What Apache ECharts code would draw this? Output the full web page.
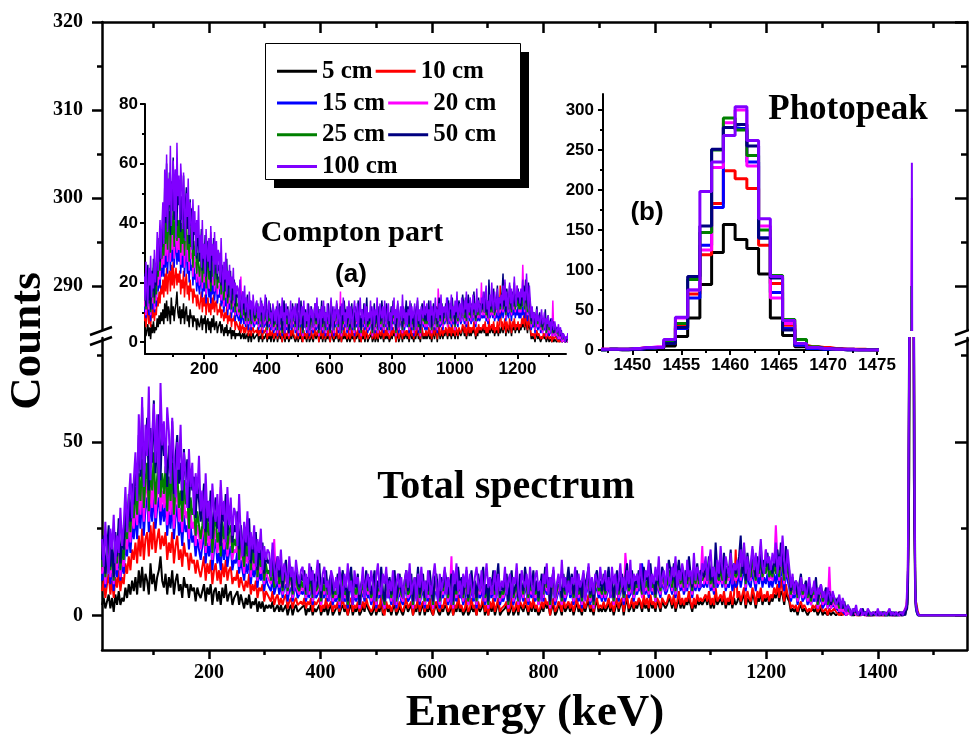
<!DOCTYPE html>
<html>
<head>
<meta charset="utf-8">
<script src="https://cdn.jsdelivr.net/npm/echarts@6/dist/echarts.min.js"></script>
<style>
  html, body { margin: 0; padding: 0; background: #fff; }
  #chart { width: 969px; height: 747px; }
</style>
</head>
<body>
<div id="chart"></div>
<script>
// Source-to-detector distances
const seriesNames = ['5 cm', '10 cm', '15 cm', '20 cm', '25 cm', '50 cm', '100 cm'];
const seriesColors = ['#000000', '#ff0000', '#0000ff', '#ff00ff', '#008000', '#000080', '#8000ff'];

// Compton continuum: counts per channel, channel i centred at COMPTON_E0 + COMPTON_STEP * i keV
const COMPTON_E0 = 8, COMPTON_STEP = 3;

const compton5 = [
  3,5,2,4,6,2,5,1,6,3,7,3,5,4,8,5,9,6,10,7,
  11,6,13,8,14,7,12,10,6,15,9,12,7,11,13,17,10,8,12,6,
  11,8,13,6,10,12,7,9,5,11,8,9,5,9,7,8,4,8,6,5,
  7,9,4,8,6,9,3,7,8,4,7,3,8,5,9,4,6,7,3,5,
  5,7,3,6,4,2,5,3,6,2,4,3,5,1,4,2,4,1,3,2,
  3,2,4,1,2,3,1,3,1,2,3,0,2,3,0,2,3,1,1,2,
  2,3,0,2,1,3,0,2,1,2,3,0,2,1,3,0,2,3,0,1,
  1,3,0,2,3,1,2,0,2,3,0,2,1,3,0,1,3,1,4,2,
  2,0,1,3,0,2,1,4,0,0,3,1,2,0,2,3,0,1,3,1,
  0,2,3,1,2,3,0,2,1,4,0,2,3,0,2,1,3,1,0,2,
  3,1,0,2,1,3,2,0,1,3,0,2,1,4,1,2,0,1,3,0,
  1,3,1,2,0,3,1,2,4,0,2,0,3,1,3,0,2,4,0,1,
  1,2,3,0,1,4,0,1,3,0,3,2,1,3,2,0,3,1,4,1,
  2,0,1,3,1,4,2,3,0,2,3,0,1,3,2,0,4,1,2,3,
  1,3,0,2,4,1,2,0,3,1,3,4,1,2,0,3,4,1,2,1,
  3,1,2,4,1,3,0,2,4,1,3,4,0,3,5,1,2,4,1,3,
  2,4,3,1,4,2,3,1,5,2,3,1,4,3,1,4,3,2,3,5,
  4,2,5,1,3,5,2,4,2,4,3,5,3,1,4,2,5,3,4,3,
  3,5,3,6,2,4,2,6,3,3,5,3,6,2,4,3,5,2,5,3,
  4,6,3,5,6,2,5,4,3,6,5,2,5,4,7,3,5,4,6,3,
  5,4,6,5,8,4,7,6,3,7,5,4,1,2,1,2,0,2,3,1,
  2,1,0,1,1,2,1,2,0,1,2,0,1,1,0,1,0,1,1,0,
  0,1,0,0,1,0,0,1,0,0,0,1,0,0,0,0,1,0,0,0,
  0,0,0,0,1,0,0,0,0,0,0,0,1,0,0,0,0,0,0,0
];
const compton10 = [
  7,10,5,9,12,6,10,5,11,8,13,7,11,9,15,12,17,13,19,16,
  21,15,23,17,25,16,22,24,17,26,19,27,18,22,25,19,23,20,24,16,
  21,18,24,15,20,23,16,19,14,21,17,18,13,18,15,16,12,16,13,11,
  14,17,10,15,12,16,9,13,15,10,13,9,15,11,16,10,13,14,9,11,
  10,13,8,11,9,7,10,8,12,6,9,7,10,5,8,7,9,4,7,6,
  6,4,7,3,5,6,3,5,3,5,6,2,4,5,2,4,5,3,3,4,
  3,5,2,4,3,5,1,4,3,3,5,1,3,2,5,2,3,4,1,3,
  2,4,1,3,5,2,3,0,4,5,1,3,2,4,1,2,4,2,5,3,
  3,1,2,5,1,3,2,6,1,0,4,2,3,1,3,5,1,2,4,2,
  1,3,5,2,3,4,0,3,2,6,1,3,4,1,3,2,5,2,0,3,
  4,2,1,3,2,5,3,1,2,4,0,3,2,6,2,3,1,2,5,1,
  2,5,2,3,0,4,2,3,6,1,3,0,4,2,5,1,3,5,1,2,
  2,3,4,1,2,5,1,2,4,1,4,3,2,5,3,1,4,2,5,2,
  3,1,2,4,2,5,3,4,0,3,5,1,2,4,3,1,6,2,3,4,
  2,4,1,3,5,2,3,1,4,2,4,6,2,3,1,4,5,2,3,2,
  4,2,3,5,2,4,1,3,5,2,4,5,1,4,6,2,3,5,2,4,
  3,5,4,2,6,3,5,2,6,3,4,2,5,4,2,5,4,3,4,6,
  5,3,6,2,4,7,3,5,3,5,4,7,4,2,5,3,6,4,5,4,
  4,6,4,7,3,5,3,8,4,4,6,4,7,3,5,4,7,3,6,19,
  5,7,4,6,8,3,7,5,4,8,6,3,7,5,8,4,6,5,7,4,
  6,5,8,6,9,5,11,7,4,9,6,5,2,3,2,3,1,3,4,2,
  3,3,1,2,1,3,2,3,1,2,3,1,1,2,0,2,1,1,2,1,
  1,0,1,0,1,0,0,1,0,0,1,0,0,0,0,1,0,0,0,0,
  0,0,0,1,0,0,0,0,0,0,1,0,0,0,0,0,0,1,0,0
];
const compton15 = [
  10,15,8,13,17,9,14,7,16,11,19,10,15,12,21,17,24,18,26,22,
  29,22,32,25,35,23,31,34,24,33,27,36,25,31,34,26,32,27,33,23,
  30,25,33,22,28,32,23,27,20,29,24,26,19,26,21,23,17,22,19,16,
  20,24,15,21,17,23,13,19,22,15,18,13,21,16,22,14,18,20,13,16,
  15,19,12,16,13,10,15,12,17,9,14,11,15,8,13,10,13,7,11,9,
  9,7,11,6,8,10,6,9,5,8,9,4,7,8,4,7,8,5,5,7,
  6,8,4,7,5,9,3,7,5,6,8,3,6,5,8,4,6,7,3,5,
  4,7,2,6,8,4,5,2,7,8,3,6,4,7,2,5,7,4,8,5,
  6,3,5,8,2,6,5,9,3,2,7,5,6,3,6,8,2,5,7,4,
  3,6,8,4,5,7,2,6,5,9,3,6,7,2,6,4,8,5,2,6,
  7,4,2,6,5,8,6,3,5,7,2,6,4,10,5,6,3,5,8,3,
  5,8,4,6,2,7,5,6,9,3,6,2,7,5,8,4,6,9,3,5,
  4,6,7,2,5,8,3,5,7,3,7,6,4,9,6,3,7,5,8,4,
  6,3,5,7,4,9,6,7,2,6,8,3,5,7,6,3,7,4,6,9,
  5,7,3,6,8,4,6,2,8,5,7,9,3,6,2,7,8,5,6,4,
  7,4,6,9,5,7,3,6,8,4,7,8,3,7,10,5,6,8,4,7,
  6,8,7,15,9,6,8,5,10,6,7,4,9,7,5,9,8,6,7,10,
  8,6,10,5,8,11,7,9,6,8,7,11,8,5,9,7,10,7,8,9,
  8,10,8,12,7,9,6,13,8,8,11,8,12,7,9,8,12,7,10,8,
  9,12,8,11,14,7,12,9,8,13,10,7,12,9,13,8,11,9,12,8,
  10,8,12,9,13,8,14,11,7,13,10,8,4,6,5,7,3,6,7,4,
  5,6,3,5,3,5,4,6,2,4,5,2,3,5,2,4,2,3,3,2,
  2,1,2,1,1,0,1,1,0,0,1,0,0,1,0,0,1,0,0,0,
  0,0,1,0,0,0,0,1,0,0,0,0,1,0,0,0,0,0,0,1
];
const compton20 = [
  12,17,9,15,19,11,16,9,19,13,22,11,17,14,24,19,27,21,30,25,
  33,26,36,29,40,27,35,39,27,37,31,41,28,35,39,30,36,31,38,26,
  35,29,38,25,32,37,27,31,24,34,28,30,22,30,25,27,20,26,23,19,
  23,27,18,25,20,26,16,22,25,18,21,37,24,19,26,17,21,23,16,19,
  18,22,14,19,16,12,18,15,20,11,17,13,18,10,15,12,16,9,13,11,
  11,9,13,22,10,12,8,11,6,10,11,6,9,10,5,8,10,7,6,9,
  7,10,5,8,6,11,4,9,6,7,10,3,8,6,10,5,7,9,4,6,
  5,9,3,7,10,5,6,3,8,10,4,7,5,9,2,6,8,5,10,6,
  8,4,6,10,3,7,6,11,4,2,9,6,8,4,7,10,3,6,9,5,
  4,7,10,5,6,9,2,8,6,11,4,7,9,3,7,5,10,6,2,8,
  9,5,3,8,6,10,7,4,6,17,2,7,5,12,6,8,4,7,10,3,
  6,10,5,7,3,9,6,8,11,4,7,2,8,6,10,5,7,11,4,6,
  5,7,9,2,6,10,4,6,8,3,9,7,5,11,7,4,8,6,10,5,
  7,3,6,9,5,11,7,8,2,7,10,4,6,8,7,3,9,5,7,11,
  6,9,4,7,10,5,7,3,9,6,8,11,4,7,2,8,10,6,7,5,
  9,5,7,11,6,8,3,7,10,5,8,9,4,18,12,6,7,10,5,8,
  7,10,8,5,11,7,9,6,12,7,8,4,10,8,6,11,9,7,8,12,
  10,7,12,6,9,13,8,11,7,10,8,13,9,6,11,8,12,8,10,20,
  9,12,9,14,8,11,7,15,10,9,13,9,14,8,11,10,15,9,12,10,
  11,14,10,13,18,8,15,11,10,16,12,9,14,11,16,10,13,19,15,10,
  12,10,14,26,16,10,17,13,9,16,12,10,5,8,6,8,4,7,9,5,
  6,8,4,7,3,6,5,8,2,5,7,3,4,6,2,14,2,4,3,2,
  3,1,2,1,2,0,1,1,0,0,1,0,0,1,0,1,0,0,0,0,
  0,0,1,0,0,0,1,0,0,0,0,1,0,0,0,1,0,0,0,0
];
const compton25 = [
  14,19,11,17,22,13,18,10,21,15,25,13,19,16,27,22,31,24,34,28,
  37,29,41,33,45,31,39,44,30,42,36,47,32,40,45,34,41,35,43,30,
  40,33,44,29,37,42,31,36,27,39,32,35,25,34,29,31,23,30,26,22,
  26,31,20,28,23,30,18,25,29,21,24,17,27,22,29,19,24,26,18,22,
  20,25,16,22,18,14,21,17,23,13,19,15,20,11,17,14,18,10,15,12,
  13,10,15,8,12,14,9,12,7,11,13,7,10,12,6,9,11,8,7,10,
  8,11,6,9,7,12,5,10,7,8,12,4,9,7,11,6,8,10,5,7,
  6,10,4,8,11,6,7,3,9,12,5,8,6,10,3,7,9,6,11,7,
  9,5,7,11,4,8,7,12,5,3,10,7,9,5,8,11,4,7,10,6,
  5,8,11,6,7,10,3,9,7,12,5,8,10,4,8,6,11,7,3,9,
  10,6,4,9,7,11,8,5,7,10,3,8,6,13,7,9,5,8,11,4,
  7,11,6,8,4,10,7,9,12,5,8,3,9,7,11,6,8,12,5,7,
  6,8,10,3,7,11,5,7,9,4,10,8,6,12,8,5,9,7,11,6,
  8,4,7,10,6,12,8,9,3,8,11,5,7,9,8,4,10,6,8,12,
  7,10,5,8,11,6,8,4,10,7,9,12,5,8,3,9,11,7,8,6,
  10,6,8,12,7,9,4,8,11,6,9,10,5,9,13,7,8,11,6,9,
  8,11,9,6,12,8,10,7,13,8,9,5,11,9,7,12,10,8,9,13,
  11,8,13,7,10,14,9,12,8,11,9,14,10,7,12,9,13,9,11,10,
  10,13,10,15,9,12,8,16,11,10,14,10,15,9,12,11,16,10,13,11,
  12,15,11,14,20,9,16,12,11,17,13,10,15,12,17,11,14,12,16,11,
  13,11,15,12,17,11,18,14,10,17,13,11,6,9,7,9,5,8,10,6,
  7,9,5,8,4,7,6,9,3,6,8,4,5,7,3,6,3,5,4,3,
  4,2,3,2,3,1,2,1,1,0,2,1,0,1,1,1,0,1,0,0,
  0,1,0,0,1,0,0,1,0,0,0,1,0,1,0,0,0,0,1,0
];
const compton50 = [
  16,23,12,19,26,14,21,11,24,17,28,15,22,19,30,25,35,27,38,32,
  43,35,52,40,60,38,47,57,36,54,44,62,41,50,58,39,55,46,51,37,
  49,41,56,35,46,52,38,44,33,48,39,45,31,42,36,40,28,38,33,27,
  31,38,24,33,27,36,22,30,34,25,29,20,32,27,35,23,28,31,21,26,
  24,30,19,26,21,17,25,20,28,15,22,18,24,13,20,16,21,12,18,15,
  16,12,19,10,14,17,11,15,8,13,16,9,12,14,7,11,13,10,8,12,
  10,13,7,11,9,14,6,12,8,10,15,5,11,9,13,7,10,12,6,9,
  8,12,5,10,13,7,9,4,11,14,6,10,8,12,3,9,11,7,13,8,
  11,6,9,13,5,10,8,14,7,4,12,9,11,6,10,13,5,8,12,7,
  6,10,13,7,9,12,4,11,8,14,6,9,12,5,10,7,13,8,4,11,
  12,7,5,11,8,13,10,6,9,12,4,10,7,14,8,11,6,9,13,5,
  9,13,7,10,5,12,8,11,14,6,9,4,11,8,13,7,10,15,6,9,
  7,10,12,4,9,13,6,8,11,5,12,9,7,14,10,6,11,8,13,7,
  10,5,8,12,7,14,9,11,4,10,13,6,8,11,9,5,12,7,10,14,
  8,12,6,9,13,7,10,5,12,8,11,14,6,9,4,11,13,8,10,7,
  12,7,10,14,8,11,5,9,13,7,10,12,6,11,15,8,9,13,7,10,
  9,13,11,7,14,10,12,8,15,9,11,6,13,10,8,14,12,9,11,16,
  13,10,15,8,12,16,11,14,9,13,10,17,12,8,14,11,15,10,13,12,
  11,15,12,17,10,14,9,21,13,11,16,12,18,10,14,13,19,11,15,12,
  14,17,23,12,16,10,18,14,13,19,15,11,17,13,20,12,16,14,18,13,
  15,12,17,14,19,13,21,16,12,20,15,13,7,11,8,10,6,9,12,7,
  8,10,6,9,5,8,7,11,4,7,9,5,6,8,4,7,3,6,5,4,
  5,3,4,2,4,1,3,2,1,0,2,1,1,0,1,2,0,1,0,1,
  1,0,0,1,0,1,0,0,1,0,1,0,0,0,1,0,0,1,0,0
];
const compton100 = [
  22,14,27,17,12,25,19,29,15,23,18,31,20,26,37,24,33,41,28,39,
  47,33,58,42,63,37,55,46,66,39,52,61,44,58,35,67,49,56,41,60,
  53,38,57,45,34,50,42,55,36,47,40,31,48,37,44,29,41,35,46,30,
  36,25,41,28,33,22,38,30,27,35,24,39,29,33,21,37,26,34,23,31,
  29,20,35,23,17,27,21,30,16,24,19,26,14,22,18,25,13,20,16,19,
  18,11,21,14,9,17,13,19,10,15,12,8,17,11,14,7,16,12,9,13,
  14,8,12,6,15,10,13,5,11,16,9,7,12,14,8,10,4,13,11,7,
  11,6,14,9,4,12,8,15,7,10,3,13,9,11,6,8,14,5,10,12,
  7,13,9,4,11,15,8,6,12,9,14,5,10,7,13,3,9,12,8,11,
  5,10,13,8,15,6,9,11,4,12,8,14,7,10,5,13,9,6,11,15,
  9,4,12,7,10,14,6,11,8,3,13,9,15,7,10,5,12,8,14,6,
  12,8,5,11,14,9,7,13,4,10,15,8,11,6,9,13,5,12,7,10,
  8,14,6,10,12,5,11,9,15,7,4,13,10,8,12,6,14,9,5,11,
  13,7,10,4,12,9,15,6,11,8,14,5,9,12,7,16,8,11,6,10,
  6,11,9,14,5,12,8,10,13,4,9,15,7,11,6,12,10,8,14,9,
  10,13,7,11,5,14,9,12,6,10,15,8,11,7,13,9,16,6,12,10,
  12,8,15,10,6,13,11,16,7,12,9,14,10,17,8,11,13,7,15,10,
  9,14,11,17,8,13,10,15,12,7,16,11,13,9,18,10,14,12,8,15,
  13,17,10,15,19,11,14,8,16,12,20,13,10,17,14,11,18,9,15,13,
  16,11,19,14,21,12,17,10,15,20,13,18,11,16,22,14,12,19,15,17,
  13,18,15,21,12,17,14,23,16,11,19,14,8,12,6,10,9,5,11,7,
  9,5,8,11,6,7,10,4,8,6,9,5,7,3,8,6,4,7,5,3,
  4,6,2,5,3,1,3,2,0,2,1,3,0,1,2,0,1,0,2,1,
  0,1,1,0,2,0,1,0,1,0,0,2,0,1,0,1,0,0,1,0
];

// Photopeak region: channel centres (keV) and counts per channel
const peakEnergy = [1446.6, 1447.8, 1449.0, 1450.2, 1451.4, 1452.6, 1453.8, 1455.0, 1456.3,
  1457.5, 1458.7, 1459.9, 1461.1, 1462.3, 1463.5, 1464.7, 1466.0, 1467.2, 1468.4, 1469.6,
  1470.8, 1472.0, 1473.2, 1474.4, 1475.6];
const peak5   = [0,1,0,1,1,2,5,17,40,82,122,157,138,127,95,40,18,4,2,1,1,0,0,0,0];
const peak10  = [1,1,1,2,3,3,8,30,70,119,183,224,214,202,131,83,31,6,4,3,2,1,1,0,0];
const peak15  = [0,1,1,1,2,3,9,27,65,131,178,278,277,235,140,72,27,6,2,1,1,0,0,0,0];
const peak20  = [1,1,1,1,3,4,12,40,75,125,228,284,300,230,155,65,33,8,3,2,1,1,0,0,0];
const peak25  = [0,1,1,2,2,3,10,33,88,147,250,290,275,243,150,93,38,13,4,2,1,1,0,0,0];
const peak50  = [0,1,0,1,2,3,8,28,92,155,251,278,282,255,140,90,25,8,3,2,1,0,0,0,0];
const peak100 = [1,1,1,2,3,3,13,41,75,198,235,268,304,262,164,92,37,8,3,2,1,1,0,0,0];

// Empty channels above the photopeak
const tailEnergy = [1490, 1525, 1560];
const tailCounts = [0, 0, 0];

// Tick and label values
const mainXMajor = [200, 400, 600, 800, 1000, 1200, 1400];
const mainXMinor = [100, 300, 500, 700, 900, 1100, 1300, 1500];
const upperYMajor = [290, 300, 310, 320];
const upperYMinor = [295, 305, 315];
const lowerYMajor = [0, 50];
const lowerYMinor = [25, 75];
const insetAXMajor = [200, 400, 600, 800, 1000, 1200];
const insetAXMinor = [100, 300, 500, 700, 900, 1100, 1300];
const insetAYMajor = [0, 20, 40, 60, 80];
const insetAYMinor = [10, 30, 50, 70];
const insetBXMajor = [1450, 1455, 1460, 1465, 1470, 1475];
const insetBXMinor = [1447.5, 1452.5, 1457.5, 1462.5, 1467.5, 1472.5];
const insetBYMajor = [0, 50, 100, 150, 200, 250, 300];
const insetBYMinor = [25, 75, 125, 175, 225, 275];

const comptonCounts = [compton5, compton10, compton15, compton20, compton25, compton50, compton100];
const peakCounts = [peak5, peak10, peak15, peak20, peak25, peak50, peak100];

const comptonPairs = comptonCounts.map(c => c.map((v, i) => [COMPTON_E0 + COMPTON_STEP * i, v]));
const peakPairs = peakCounts.map(c => peakEnergy.map((e, i) => [e, c[i]]));
const tailPairs = tailEnergy.map((e, i) => [e, tailCounts[i]]);
const fullPairs = comptonPairs.map((c, k) => c.concat(peakPairs[k], tailPairs));

const serifFont = { fontFamily: 'Liberation Serif', fontWeight: 'bold', fontSize: 20, color: '#000' };
const sansFont = { fontFamily: 'Liberation Sans', fontWeight: 'bold', fontSize: 17, color: '#000' };

function axis(gridIndex, position, min, max, ticks, labels, tickLen, inside, lineW, showLine, font, margin) {
  return {
    type: 'value', gridIndex, position, min, max,
    splitLine: { show: false },
    minorTick: { show: false },
    axisLine: { show: showLine, onZero: false, lineStyle: { color: '#000', width: lineW } },
    axisTick: { show: true, inside, length: tickLen, customValues: ticks,
      lineStyle: { color: '#000', width: lineW } },
    axisLabel: labels
      ? Object.assign({ show: true, customValues: labels, margin, formatter: v => String(v) }, font)
      : { show: false }
  };
}

const X_MIN = 8, X_MAX = 1560;
const xAxes = [
  axis(0, 'top', X_MIN, X_MAX, mainXMajor, null, 11, true, 2.5, true),
  axis(0, 'top', X_MIN, X_MAX, mainXMinor, null, 6, true, 2.5, false),
  axis(1, 'bottom', X_MIN, X_MAX, mainXMajor, mainXMajor, 9, false, 2.5, true, serifFont, 13),
  axis(1, 'bottom', X_MIN, X_MAX, mainXMinor, null, 5, false, 2.5, false),
  axis(2, 'bottom', 11, 1355, insetAXMajor, insetAXMajor, 5, false, 2, true, sansFont, 7),
  axis(2, 'bottom', 11, 1355, insetAXMinor, null, 3, false, 2, false),
  axis(3, 'bottom', 1447, 1475, insetBXMajor, insetBXMajor, 5, false, 2, true, sansFont, 7),
  axis(3, 'bottom', 1447, 1475, insetBXMinor, null, 3, false, 2, false)
];
const yAxes = [
  axis(0, 'left', 285, 320, upperYMajor, upperYMajor, 10, false, 2.5, true, serifFont, 19),
  axis(0, 'left', 285, 320, upperYMinor, null, 5, false, 2.5, false),
  axis(0, 'right', 285, 320, upperYMajor, null, 12, true, 2.5, true),
  axis(0, 'right', 285, 320, upperYMinor, null, 6, true, 2.5, false),
  axis(1, 'left', -10, 80, lowerYMajor, lowerYMajor, 10, false, 2.5, true, serifFont, 19),
  axis(1, 'left', -10, 80, lowerYMinor, null, 5, false, 2.5, false),
  axis(1, 'right', -10, 80, lowerYMajor, null, 12, true, 2.5, true),
  axis(1, 'right', -10, 80, lowerYMinor, null, 6, true, 2.5, false),
  axis(2, 'left', -4, 80, insetAYMajor, insetAYMajor, 5, false, 2, true, sansFont, 7),
  axis(2, 'left', -4, 80, insetAYMinor, null, 3, false, 2, false),
  axis(3, 'left', 0, 320, insetBYMajor, insetBYMajor, 5, false, 2, true, sansFont, 9),
  axis(3, 'left', 0, 320, insetBYMinor, null, 3, false, 2, false)
];

function lineSeries(k, xi, yi, data, width, step) {
  return {
    type: 'line', name: seriesNames[k], xAxisIndex: xi, yAxisIndex: yi, data,
    step: step || false, showSymbol: false, symbol: 'none', clip: true,
    silent: true, animation: false, emphasis: { disabled: true },
    color: seriesColors[k],
    lineStyle: { color: seriesColors[k], width },
    itemStyle: { color: seriesColors[k] }
  };
}

const series = [];
seriesNames.forEach((_, k) => {
  series.push(lineSeries(k, 0, 0, fullPairs[k], 2));
  series.push(lineSeries(k, 2, 4, fullPairs[k], 2));
  series.push(lineSeries(k, 4, 8, comptonPairs[k], 1.5));
  series.push(lineSeries(k, 6, 10, peakPairs[k], 3, 'middle'));
});

function label(text, x, y, font, rotation) {
  return { type: 'text', x, y, rotation: rotation || 0, z: 100,
    style: { text, font, fill: '#000', align: 'center', verticalAlign: 'middle' } };
}
function slash(x1, y1, x2, y2) {
  return { type: 'line', z: 100, shape: { x1, y1, x2, y2 },
    style: { stroke: '#000', lineWidth: 2.5 } };
}

const option = {
  backgroundColor: '#ffffff',
  animation: false,
  grid: [
    { left: 102, top: 22, width: 865, height: 308, outerBoundsMode: 'none' },
    { left: 102, top: 338, width: 865, height: 312, outerBoundsMode: 'none' },
    { left: 145, top: 104, width: 421, height: 250, outerBoundsMode: 'none' },
    { left: 603, top: 94, width: 274, height: 256, outerBoundsMode: 'none' }
  ],
  xAxis: xAxes,
  yAxis: yAxes,
  legend: {
    data: seriesNames, left: 265, top: 43, width: 240, orient: 'horizontal',
    itemGap: 3, itemWidth: 40, itemHeight: 3, icon: 'rect',
    padding: [14, 22, 0, 12], selectedMode: false,
    backgroundColor: 'transparent', borderWidth: 0,
    textStyle: { fontFamily: 'Liberation Serif', fontWeight: 'bold', fontSize: 25,
      color: '#000', lineHeight: 28.7 }
  },
  series,
  graphic: [
    // legend frame with its drop shadow
    { type: 'rect', z: 3, z2: 0, shape: { x: 274, y: 52, width: 255, height: 136 },
      style: { fill: '#000' } },
    { type: 'rect', z: 3, z2: 1, shape: { x: 265.5, y: 43.5, width: 255, height: 136 },
      style: { fill: '#fff', stroke: '#000', lineWidth: 1 } },
    label('Counts', 28, 341, 'bold 45px "Liberation Serif"', Math.PI / 2),
    label('Energy (keV)', 535, 713, 'bold 45px "Liberation Serif"'),
    label('Total spectrum', 506, 488, 'bold 40px "Liberation Serif"'),
    label('Compton part', 352, 233, 'bold 30px "Liberation Serif"'),
    label('(a)', 351, 275, 'bold 26px "Liberation Sans"'),
    label('Photopeak', 848, 110, 'bold 35px "Liberation Serif"'),
    label('(b)', 647, 213, 'bold 26px "Liberation Sans"'),
    slash(90, 335, 112, 327),
    slash(90, 345, 112, 337),
    slash(955, 335, 969, 330),
    slash(955, 345, 969, 340)
  ]
};

const chart = echarts.init(document.getElementById('chart'), null, { renderer: 'canvas' });
chart.setOption(option);
</script>
</body>
</html>
